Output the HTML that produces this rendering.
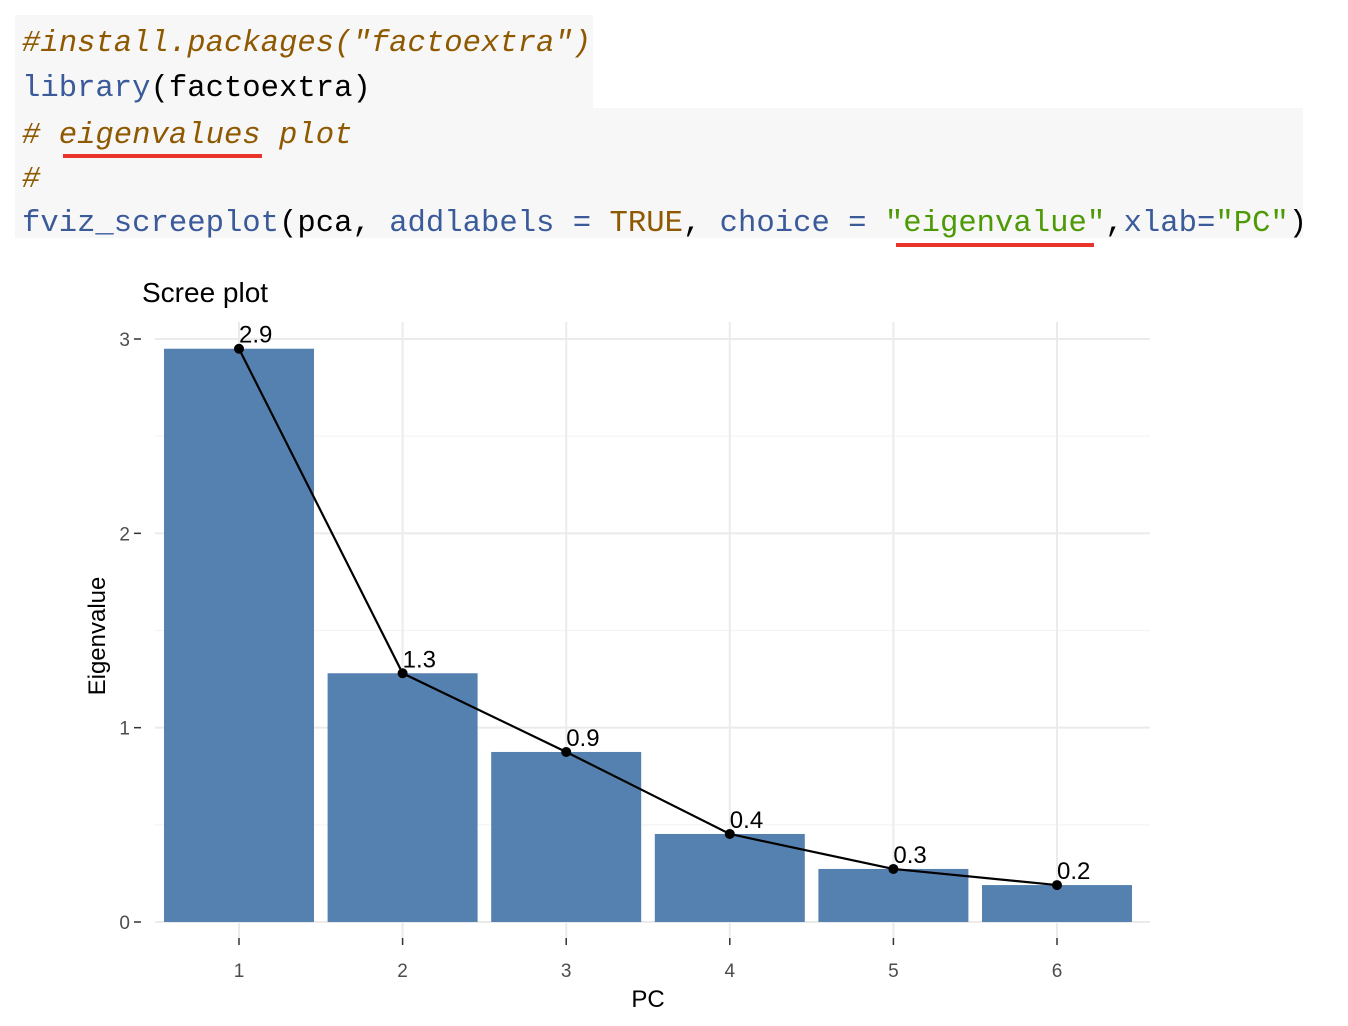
<!DOCTYPE html>
<html><head><meta charset="utf-8"><style>
html,body{margin:0;padding:0;background:#fff;}
svg{display:block;}
.code{font-family:"Liberation Mono",monospace;font-size:30.6px;}
.c{fill:#8f5902;font-style:italic;}
.k{fill:#3a5a9a;}
.s{fill:#4e9a06;}
.t{fill:#8f5902;}
.n{fill:#000;}
.ax{font-family:"Liberation Sans",sans-serif;}
</style></head><body>
<svg width="1348" height="1026" xmlns="http://www.w3.org/2000/svg">
<g>
<rect x="15" y="15" width="578" height="94" fill="#f7f7f7"/>
<rect x="15" y="108" width="1288" height="130" fill="#f7f7f7"/>
<text class="code" x="22" y="51"><tspan class="c">#install.packages("factoextra")</tspan></text>
<text class="code" x="22" y="96"><tspan class="k">library</tspan><tspan class="n">(factoextra)</tspan></text>
<text class="code" x="22" y="143"><tspan class="c"># eigenvalues plot</tspan></text>
<text class="code" x="22" y="187"><tspan class="c">#</tspan></text>
<text class="code" x="22" y="231"><tspan class="k">fviz_screeplot</tspan><tspan class="n">(pca, </tspan><tspan class="k">addlabels</tspan><tspan class="n"> </tspan><tspan class="k">=</tspan><tspan class="n"> </tspan><tspan class="t">TRUE</tspan><tspan class="n">, </tspan><tspan class="k">choice</tspan><tspan class="n"> </tspan><tspan class="k">=</tspan><tspan class="n"> </tspan><tspan class="s">"eigenvalue"</tspan><tspan class="n">,</tspan><tspan class="k">xlab=</tspan><tspan class="s">"PC"</tspan><tspan class="n">)</tspan></text>
<rect x="63" y="154" width="199" height="4" fill="#e8342a"/>
<rect x="896" y="243" width="198" height="4" fill="#e8342a"/>
</g>
<g id="chart"></g>
</svg>
<script>
const categories = ["1","2","3","4","5","6"];
const eigenvalues = [2.95, 1.28, 0.875, 0.453, 0.273, 0.19];
const valueLabels = ["2.9","1.3","0.9","0.4","0.3","0.2"];
const yTicks = [0,1,2,3];
const yMinor = [0.5,1.5,2.5];

const NS="http://www.w3.org/2000/svg";
const g=document.getElementById('chart');
const L=155,R=1150,T=322,B=938;
const y0=922, yPer=194.33;
function yS(v){return y0-v*yPer;}
const x1=239, step=163.6;
function xS(i){return x1+i*step;}
const bw=150;
function mk(tag,attrs,parent){const e=document.createElementNS(NS,tag);for(const k in attrs)e.setAttribute(k,attrs[k]);(parent||g).appendChild(e);return e;}

yMinor.forEach(v=>{const e=mk('line',{x1:L,x2:R,y1:yS(v),y2:yS(v),stroke:'#f3f3f3','stroke-width':1.2});

});
yTicks.forEach(v=>{const e=mk('line',{x1:L,x2:R,y1:yS(v),y2:yS(v),stroke:'#ebebeb','stroke-width':2});


const tk=mk('line',{x1:134,x2:141,y1:yS(v),y2:yS(v),stroke:'#333','stroke-width':1.5});


const t=mk('text',{x:130,y:yS(v)+7,'text-anchor':'end','font-size':19,fill:'#4d4d4d',class:'ax'});t.textContent=v;

});
categories.forEach((c,i)=>{const e=mk('line',{x1:xS(i),x2:xS(i),y1:T,y2:B,stroke:'#ebebeb','stroke-width':2});

});
categories.forEach((c,i)=>{const r=mk('rect',{x:xS(i)-bw/2,y:yS(eigenvalues[i]),width:bw,height:yS(0)-yS(eigenvalues[i]),fill:'#5581b1'});


const tk=mk('line',{x1:xS(i),x2:xS(i),y1:B,y2:B+7,stroke:'#333','stroke-width':1.5});


const t=mk('text',{x:xS(i),y:977,'text-anchor':'middle','font-size':19,fill:'#4d4d4d',class:'ax'});t.textContent=c;

});
const pl=mk('polyline',{points:eigenvalues.map((v,i)=>xS(i)+','+yS(v)).join(' '),fill:'none',stroke:'#000','stroke-width':2.2});


eigenvalues.forEach((v,i)=>{const p=mk('circle',{cx:xS(i),cy:yS(v),r:5,fill:'#000'});


const t=mk('text',{x:xS(i),y:yS(v)-6,'font-size':24,fill:'#000',class:'ax'});t.textContent=valueLabels[i];

});
const title=mk('text',{x:142,y:302,'font-size':28,fill:'#000',class:'ax'});title.textContent='Scree plot';


const xt=mk('text',{x:648,y:1007,'text-anchor':'middle','font-size':24,fill:'#000',class:'ax'});xt.textContent='PC';


const yt=mk('text',{x:0,y:0,'text-anchor':'middle','font-size':24,fill:'#000',class:'ax',transform:'translate(105,636) rotate(-90)'});yt.textContent='Eigenvalue';


</script>
</body></html>
